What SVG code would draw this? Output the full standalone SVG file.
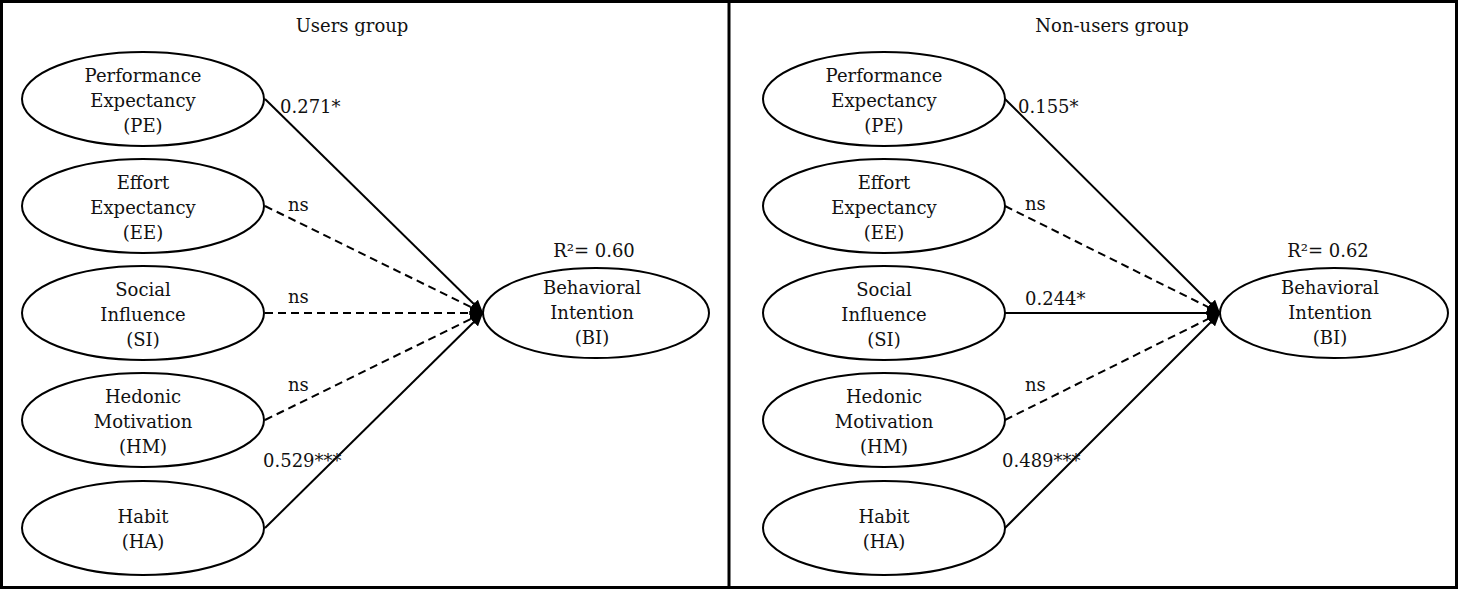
<svg xmlns="http://www.w3.org/2000/svg" width="1458" height="590" viewBox="0 0 1458 590">
<style>
text{font-family:"DejaVu Serif","Liberation Serif",serif;font-size:18px;fill:#111;}
.c{text-anchor:middle;}
.node ellipse{fill:#fff;stroke:#000;stroke-width:2;}
.edge{stroke:#000;stroke-width:2;fill:none;marker-end:url(#ah);}
.dash{stroke-dasharray:8 5;}
.frame{fill:none;stroke:#000;stroke-width:3;}
</style>
<defs>
<marker id="ah" markerUnits="userSpaceOnUse" markerWidth="13" markerHeight="12" refX="13" refY="6" orient="auto">
<path d="M0,0 L13,6 L0,12 Z" fill="#000"/>
</marker>
</defs>
<rect width="1458" height="590" fill="#fff"/>
<rect class="frame" x="1.5" y="1.5" width="1455" height="586"/>
<line class="frame" x1="729" y1="1" x2="729" y2="589"/>
<text class="c" x="352" y="32">Users group</text>
<text class="c" x="1112" y="32">Non-users group</text>

<g id="connectors">
<line class="edge" x1="265" y1="99" x2="483" y2="313"/>
<line class="edge dash" x1="265" y1="206" x2="483" y2="313"/>
<line class="edge dash" x1="265" y1="313" x2="483" y2="313"/>
<line class="edge dash" x1="265" y1="420" x2="483" y2="313"/>
<line class="edge" x1="265" y1="528" x2="483" y2="313"/>
<line class="edge" x1="1005" y1="99" x2="1220" y2="313"/>
<line class="edge dash" x1="1005" y1="206" x2="1220" y2="313"/>
<line class="edge" x1="1005" y1="313" x2="1220" y2="313"/>
<line class="edge dash" x1="1005" y1="420" x2="1220" y2="313"/>
<line class="edge" x1="1005" y1="528" x2="1220" y2="313"/>
<text x="280" y="113">0.271*</text>
<text x="288" y="211">ns</text>
<text x="288" y="303">ns</text>
<text x="288" y="391">ns</text>
<text x="263" y="467">0.529***</text>
<text x="1018" y="113">0.155*</text>
<text x="1025" y="210">ns</text>
<text x="1025" y="305">0.244*</text>
<text x="1025" y="391">ns</text>
<text x="1002" y="467">0.489***</text>
</g>

<g id="u-pe" class="node"><ellipse cx="143" cy="99" rx="121" ry="47"/><text class="c" x="143" y="82">Performance</text><text class="c" x="143" y="107">Expectancy</text><text class="c" x="143" y="132">(PE)</text></g>
<g id="u-ee" class="node"><ellipse cx="143" cy="206" rx="121" ry="47"/><text class="c" x="143" y="189">Effort</text><text class="c" x="143" y="214">Expectancy</text><text class="c" x="143" y="239">(EE)</text></g>
<g id="u-si" class="node"><ellipse cx="143" cy="313" rx="121" ry="47"/><text class="c" x="143" y="296">Social</text><text class="c" x="143" y="321">Influence</text><text class="c" x="143" y="346">(SI)</text></g>
<g id="u-hm" class="node"><ellipse cx="143" cy="420" rx="121" ry="47"/><text class="c" x="143" y="403">Hedonic</text><text class="c" x="143" y="428">Motivation</text><text class="c" x="143" y="453">(HM)</text></g>
<g id="u-ha" class="node"><ellipse cx="143" cy="528" rx="121" ry="47"/><text class="c" x="143" y="523">Habit</text><text class="c" x="143" y="548">(HA)</text></g>
<g id="u-bi" class="node"><ellipse cx="596" cy="313" rx="113" ry="45"/><text class="c" x="592" y="294">Behavioral</text><text class="c" x="592" y="319">Intention</text><text class="c" x="592" y="344">(BI)</text><text class="c" x="594" y="257">R²= 0.60</text></g>

<g id="n-pe" class="node"><ellipse cx="884" cy="99" rx="121" ry="47"/><text class="c" x="884" y="82">Performance</text><text class="c" x="884" y="107">Expectancy</text><text class="c" x="884" y="132">(PE)</text></g>
<g id="n-ee" class="node"><ellipse cx="884" cy="206" rx="121" ry="47"/><text class="c" x="884" y="189">Effort</text><text class="c" x="884" y="214">Expectancy</text><text class="c" x="884" y="239">(EE)</text></g>
<g id="n-si" class="node"><ellipse cx="884" cy="313" rx="121" ry="47"/><text class="c" x="884" y="296">Social</text><text class="c" x="884" y="321">Influence</text><text class="c" x="884" y="346">(SI)</text></g>
<g id="n-hm" class="node"><ellipse cx="884" cy="420" rx="121" ry="47"/><text class="c" x="884" y="403">Hedonic</text><text class="c" x="884" y="428">Motivation</text><text class="c" x="884" y="453">(HM)</text></g>
<g id="n-ha" class="node"><ellipse cx="884" cy="528" rx="121" ry="47"/><text class="c" x="884" y="523">Habit</text><text class="c" x="884" y="548">(HA)</text></g>
<g id="n-bi" class="node"><ellipse cx="1334" cy="313" rx="114" ry="45"/><text class="c" x="1330" y="294">Behavioral</text><text class="c" x="1330" y="319">Intention</text><text class="c" x="1330" y="344">(BI)</text><text class="c" x="1328" y="257">R²= 0.62</text></g>
</svg>
